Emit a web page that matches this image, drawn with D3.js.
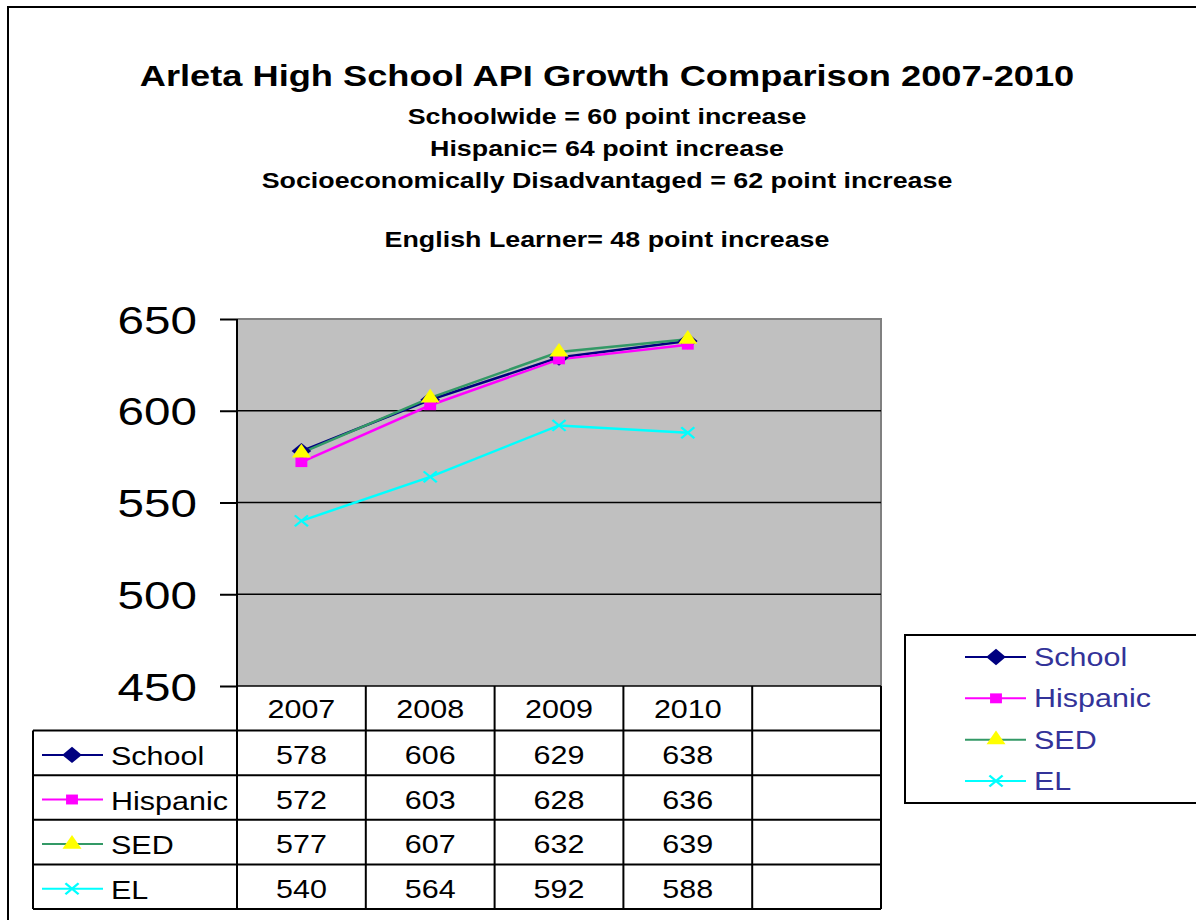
<!DOCTYPE html>
<html>
<head>
<meta charset="utf-8">
<script src="https://cdn.jsdelivr.net/npm/d3@7"></script>
<style>
  html, body { margin: 0; padding: 0; background: #fff; }
  svg { display: block; font-family: "Liberation Sans", Arial, sans-serif; }
</style>
</head>
<body>
<div id="chart"></div>
<script>
var years = ["2007", "2008", "2009", "2010"];
var columns = ["2007", "2008", "2009", "2010", " "];
var seriesNames = ["School", "Hispanic", "SED", "EL"];
var school = [578, 606, 629, 638];
var hispanic = [572, 603, 628, 636];
var sed = [577, 607, 632, 639];
var el = [540, 564, 592, 588];
var yTicks = [450, 500, 550, 600, 650];
var titleText = "Arleta High School API Growth Comparison 2007-2010";
var subtitles = ["Schoolwide = 60 point increase",
                 "Hispanic= 64 point increase",
                 "Socioeconomically Disadvantaged = 62 point increase",
                 "English Learner= 48 point increase"];

var series = [
  {name: "School", values: school, line: "#000080", fill: "#000080", shape: "diamond"},
  {name: "Hispanic", values: hispanic, line: "#ff00ff", fill: "#ff00ff", shape: "square"},
  {name: "SED", values: sed, line: "#339966", fill: "#ffff00", shape: "triangle"},
  {name: "EL", values: el, line: "#00ffff", fill: "#00ffff", shape: "x"}
];

var W = 1196, H = 920;
var SX = 1.22; // text in the source is stretched sideways

var svg = d3.select("#chart").append("svg")
    .attr("width", W)
    .attr("height", H);

// outer frame (runs off the right and bottom edges)
svg.append("rect")
    .attr("x", 8).attr("y", 7)
    .attr("width", W).attr("height", H)
    .attr("fill", "none").attr("stroke", "#000").attr("stroke-width", 2);

function stext(parent, x, y, str, size, anchor) {
  return parent.append("text")
      .attr("transform", "translate(" + x + "," + y + ") scale(" + SX + ",1)")
      .attr("text-anchor", anchor || "middle")
      .style("font-size", size + "px")
      .text(str);
}

// titles
stext(svg, 607, 86, titleText, 29.7).style("font-weight", "bold");
var subY = [124, 156, 188, 247];
subtitles.forEach(function(s, i) {
  stext(svg, 607, subY[i], s, 22).style("font-weight", "bold");
});

var plot = {left: 237, right: 881, top: 319, bottom: 686};

var x = d3.scaleBand().domain(columns).range([plot.left, plot.right]);
var y = d3.scaleLinear().domain([450, 650]).range([plot.bottom, plot.top]);
var rows = d3.scaleBand().domain(["head"].concat(seriesNames)).range([686, 909]);

// plot background
svg.append("rect")
    .attr("x", plot.left).attr("y", plot.top)
    .attr("width", plot.right - plot.left).attr("height", plot.bottom - plot.top)
    .attr("fill", "#c0c0c0");
svg.append("path")
    .attr("d", "M" + plot.left + "," + plot.top + "H" + plot.right + "V" + plot.bottom)
    .attr("fill", "none").attr("stroke", "#808080").attr("stroke-width", 2);

// gridlines
svg.append("g").selectAll("line")
    .data(yTicks.filter(function(d) { return d < 650; }))
    .enter().append("line")
    .attr("x1", plot.left).attr("x2", plot.right)
    .attr("y1", function(d) { return y(d); }).attr("y2", function(d) { return y(d); })
    .attr("stroke", "#000").attr("stroke-width", 1.5);

// y axis
var yAxis = d3.axisLeft(y).tickValues(yTicks).tickSize(17).tickFormat(d3.format("d"));
var gy = svg.append("g")
    .attr("transform", "translate(" + plot.left + ",0)")
    .call(yAxis);
gy.select(".domain").remove();
gy.selectAll(".tick line").attr("stroke", "#000").attr("stroke-width", 2);
gy.selectAll(".tick text")
    .attr("x", null).attr("dy", null)
    .attr("transform", "translate(-40,14) scale(" + SX + ",1)")
    .attr("fill", "#000")
    .style("font-family", "\"Liberation Sans\", Arial, sans-serif")
    .style("font-size", "39px");
svg.append("line")
    .attr("x1", plot.left).attr("x2", plot.left)
    .attr("y1", plot.top).attr("y2", 909)
    .attr("stroke", "#000").attr("stroke-width", 2);

// symbols
function marker(g, shape, fill, cx, cy) {
  var t = "translate(" + cx + "," + cy + ") scale(1.2,1)";
  if (shape === "x") {
    g.append("path")
        .attr("transform", t)
        .attr("d", d3.symbol().type(d3.symbolTimes).size(80)())
        .attr("fill", "none").attr("stroke", fill).attr("stroke-width", 2);
    return;
  }
  var type = shape === "diamond" ? d3.symbolDiamond2 : shape === "square" ? d3.symbolSquare2 : d3.symbolTriangle2;
  var size = shape === "diamond" ? 170 : shape === "square" ? 125 : 180;
  g.append("path")
      .attr("transform", t)
      .attr("d", d3.symbol().type(type).size(size)())
      .attr("fill", fill).attr("stroke", "none");
}

var line = d3.line()
    .x(function(d, i) { return x(years[i]) + x.bandwidth() / 2; })
    .y(function(d) { return y(d); });

series.forEach(function(s) {
  svg.append("path")
      .attr("d", line(s.values))
      .attr("fill", "none").attr("stroke", s.line).attr("stroke-width", 2.5);
});
series.forEach(function(s) {
  var g = svg.append("g");
  s.values.forEach(function(v, i) {
    marker(g, s.shape, s.fill, x(years[i]) + x.bandwidth() / 2, y(v));
  });
});

// data table
var tbl = svg.append("g");
columns.concat(["end"]).forEach(function(c, i) {
  if (i === 0) return;
  var xx = i < columns.length ? x(c) : plot.right;
  tbl.append("line")
      .attr("x1", xx).attr("x2", xx)
      .attr("y1", rows("head")).attr("y2", 909)
      .attr("stroke", "#000").attr("stroke-width", 2);
});
seriesNames.forEach(function(n) {
  tbl.append("line")
      .attr("x1", 33).attr("x2", plot.right)
      .attr("y1", rows(n)).attr("y2", rows(n))
      .attr("stroke", "#000").attr("stroke-width", 2);
});
tbl.append("line")
    .attr("x1", 33).attr("x2", plot.right)
    .attr("y1", 909).attr("y2", 909)
    .attr("stroke", "#000").attr("stroke-width", 2);
tbl.append("line")
    .attr("x1", 33).attr("x2", 33)
    .attr("y1", rows(seriesNames[0])).attr("y2", 909)
    .attr("stroke", "#000").attr("stroke-width", 2);

years.forEach(function(yr) {
  stext(tbl, x(yr) + x.bandwidth() / 2, rows("head") + rows.bandwidth() / 2 + 10, yr, 25);
});

series.forEach(function(s) {
  var cy = rows(s.name) + rows.bandwidth() / 2;
  tbl.append("line")
      .attr("x1", 42).attr("x2", 103)
      .attr("y1", cy + 2).attr("y2", cy + 2)
      .attr("stroke", s.line).attr("stroke-width", 2);
  marker(tbl, s.shape, s.fill, 72, cy + 2);
  stext(tbl, 111, cy + 12, s.name, 25, "start");
  s.values.forEach(function(v, i) {
    stext(tbl, x(years[i]) + x.bandwidth() / 2, cy + 11, v, 25);
  });
});

// legend
var leg = svg.append("g");
leg.append("rect")
    .attr("x", 905).attr("y", 635)
    .attr("width", 320).attr("height", 168)
    .attr("fill", "#fff").attr("stroke", "#000").attr("stroke-width", 2);
var legY = d3.scalePoint().domain(seriesNames).range([657, 781]);
series.forEach(function(s) {
  var cy = legY(s.name);
  leg.append("line")
      .attr("x1", 965).attr("x2", 1026)
      .attr("y1", cy).attr("y2", cy)
      .attr("stroke", s.line).attr("stroke-width", 2);
  marker(leg, s.shape, s.fill, 996, cy);
  stext(leg, 1034, cy + 9, s.name, 25, "start").attr("fill", "#333399");
});
</script>
</body>
</html>
